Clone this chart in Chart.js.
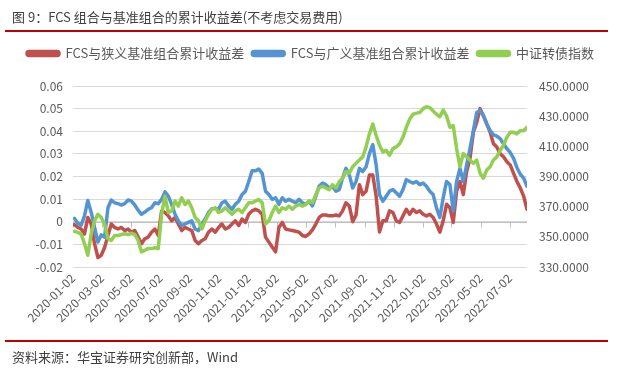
<!DOCTYPE html>
<html><head><meta charset="utf-8">
<script src="https://cdn.jsdelivr.net/npm/chart.js@4.4.1/dist/chart.umd.min.js"></script>
<style>
body{margin:0;background:#fff;}
#wrap{position:relative;width:621px;height:370px;overflow:hidden;font-family:'Noto Sans CJK SC','Noto Sans',sans-serif;}
#title{position:absolute;left:12px;top:7px;font-size:13px;color:#404040;white-space:nowrap;}
.rule{position:absolute;left:5px;width:603px;height:2px;background:#C00000;}
#src{position:absolute;left:12px;top:347px;font-size:13px;color:#404040;white-space:nowrap;}
canvas{position:absolute;left:0;top:0;}
</style></head>
<body><div id="wrap">
<canvas id="c" width="621" height="370"></canvas>
<div id="title">图 9：FCS 组合与基准组合的累计收益差(不考虑交易费用)</div>
<div class="rule" style="top:30px"></div>
<div class="rule" style="top:340px"></div>
<div id="src">资料来源：华宝证券研究创新部，Wind</div>
</div>
<script>
const seriesNames = ['FCS与狭义基准组合累计收益差','FCS与广义基准组合累计收益差','中证转债指数'];
const tickLabels = ['2020-01-02','2020-03-02','2020-05-02','2020-07-02','2020-09-02','2020-11-02','2021-01-02','2021-03-02','2021-05-02','2021-07-02','2021-09-02','2021-11-02','2022-01-02','2022-03-02','2022-05-02','2022-07-02'];
const startDate = '2020-01-02';
const firstSampleDay = 3;   // weekly samples
const sampleStep = 7;

const narrowDiff = [
-0.0013,-0.0025,-0.0032,-0.0054,0.0019,-0.0010,-0.0097,-0.0158,-0.0148,-0.0114,
-0.0061,-0.0010,-0.0025,-0.0032,-0.0025,-0.0039,-0.0032,-0.0046,-0.0039,-0.0068,
-0.0097,-0.0075,-0.0068,-0.0046,-0.0032,-0.0061,0.0048,0.0041,0.0026,0.0004,
0.0019,-0.0010,-0.0039,-0.0025,-0.0032,-0.0039,-0.0083,-0.0097,-0.0083,-0.0075,
-0.0046,-0.0032,-0.0046,-0.0025,-0.0010,-0.0032,-0.0025,-0.0010,0.0004,-0.0017,
0.0012,-0.0003,0.0033,0.0048,0.0055,0.0048,0.0033,-0.0068,-0.0090,-0.0112,
-0.0133,-0.0025,-0.0003,-0.0032,-0.0036,-0.0039,-0.0042,-0.0046,-0.0061,-0.0065,
-0.0054,-0.0036,-0.0010,0.0019,0.0030,0.0030,0.0026,0.0026,0.0030,0.0026,
0.0048,0.0084,0.0070,0.0000,0.0030,0.0164,0.0120,0.0135,0.0207,0.0207,
0.0113,-0.0045,0.0004,0.0004,0.0048,0.0041,0.0004,-0.0003,0.0026,0.0055,
0.0033,0.0055,0.0041,0.0048,0.0033,0.0026,0.0033,0.0019,-0.0010,-0.0046,
0.0004,0.0077,0.0062,-0.0003,0.0135,0.0178,0.0120,0.0222,0.0280,0.0396,
0.0439,0.0500,0.0468,0.0432,0.0396,0.0345,0.0330,0.0301,0.0287,0.0265,
0.0251,0.0214,0.0178,0.0149,0.0113,0.0055
];
const broadDiff = [
0.0015,-0.0007,-0.0015,0.0026,0.0094,0.0041,-0.0025,-0.0090,-0.0058,-0.0068,
0.0062,0.0096,0.0084,0.0080,0.0074,0.0080,0.0096,0.0091,0.0074,0.0051,
0.0033,0.0043,0.0055,0.0062,0.0084,0.0080,0.0099,0.0132,0.0113,0.0077,
0.0033,0.0004,-0.0017,-0.0010,-0.0003,0.0004,-0.0032,-0.0039,-0.0010,0.0012,
0.0041,0.0058,0.0059,0.0055,0.0084,0.0091,0.0070,0.0055,0.0077,0.0091,
0.0120,0.0135,0.0178,0.0225,0.0225,0.0233,0.0214,0.0135,0.0120,0.0099,
0.0106,0.0077,0.0106,0.0091,0.0099,0.0091,0.0084,0.0099,0.0084,0.0077,
0.0091,0.0070,0.0113,0.0157,0.0171,0.0164,0.0149,0.0157,0.0135,0.0142,
0.0193,0.0236,0.0207,0.0149,0.0178,0.0236,0.0222,0.0243,0.0301,0.0341,
0.0251,0.0120,0.0091,0.0113,0.0135,0.0142,0.0128,0.0113,0.0142,0.0186,
0.0178,0.0171,0.0178,0.0164,0.0171,0.0157,0.0135,0.0120,0.0062,0.0019,
0.0106,0.0178,0.0164,0.0048,0.0178,0.0236,0.0178,0.0251,0.0323,0.0403,
0.0483,0.0492,0.0470,0.0432,0.0403,0.0384,0.0378,0.0367,0.0345,0.0323,
0.0306,0.0280,0.0239,0.0210,0.0193,0.0157
];
const cbIndex = [
353.7,353.0,352.0,345.4,337.8,352.0,360.6,365.0,362.8,358.5,
348.7,347.6,350.9,350.9,351.5,352.0,351.5,352.4,351.5,347.6,
340.0,341.1,342.2,342.2,342.8,342.2,365.0,377.0,366.1,367.2,
373.7,370.4,375.9,371.5,373.7,369.3,362.8,360.6,355.2,360.6,
365.0,368.3,369.3,366.1,367.2,369.3,367.2,365.0,367.2,368.3,
366.1,369.3,372.6,372.6,373.7,374.8,372.6,358.5,360.6,366.1,
370.4,366.1,369.3,368.3,370.4,368.3,370.4,371.5,370.4,371.5,
373.7,372.6,378.0,382.4,383.5,382.4,381.3,384.6,382.4,386.7,
388.9,393.3,392.2,396.5,398.7,400.9,403.0,409.6,418.3,424.8,
417.2,410.7,406.3,407.4,404.1,408.5,409.6,411.7,416.1,422.6,
428.0,431.3,432.0,432.4,435.0,436.3,435.7,433.5,431.3,429.6,
434.0,430.2,422.6,423.7,408.5,396.5,405.2,403.0,400.9,398.7,
400.9,392.2,388.9,394.3,396.5,400.9,403.0,407.4,410.7,416.1,
419.3,419.3,418.3,420.4,420.4,422.6
];

function dayOffset(s){
  const [y,m,d] = s.split('-').map(Number);
  const [y0,m0,d0] = startDate.split('-').map(Number);
  return Math.round((Date.UTC(y,m-1,d) - Date.UTC(y0,m0-1,d0))/86400000);
}
const tickDays = tickLabels.map(dayOffset);
const toPoints = arr => arr.map((v,i)=>({x:firstSampleDay + i*sampleStep, y:v}));
const lastDay = firstSampleDay + (cbIndex.length-1)*sampleStep;

const FONT = "'Noto Sans CJK SC','Noto Sans',sans-serif";
const TXT = '#595959';

const legendSpacer = {
  id:'legendSpacer',
  beforeInit(chart){
    const orig = chart.legend.fit;
    chart.legend.fit = function(){ orig.call(this); this.height += 16; };
  }
};
const zeroTicks = {
  id:'zeroTicks',
  beforeDatasetsDraw(chart){
    const xs = chart.scales.x, ys = chart.scales.y, ctx = chart.ctx;
    const y0 = Math.round(ys.getPixelForValue(0)) + 0.5;
    ctx.save();
    ctx.strokeStyle = '#BFBFBF'; ctx.lineWidth = 1;
    ctx.beginPath();
    ctx.moveTo(chart.chartArea.left, y0); ctx.lineTo(chart.chartArea.right, y0);
    tickDays.forEach(d=>{
      const x = Math.round(xs.getPixelForValue(d)) + 0.5;
      ctx.moveTo(x, y0); ctx.lineTo(x, y0 + 5);
    });
    ctx.stroke();
    ctx.restore();
  }
};

new Chart(document.getElementById('c'), {
  type:'line',
  data:{ datasets:[
    {label:seriesNames[0], data:toPoints(narrowDiff), yAxisID:'y', borderColor:'#C0504D', backgroundColor:'#C0504D', order:3},
    {label:seriesNames[1], data:toPoints(broadDiff), yAxisID:'y', borderColor:'#5594D2', backgroundColor:'#5594D2', order:2},
    {label:seriesNames[2], data:toPoints(cbIndex), yAxisID:'y1', borderColor:'#92CF50', backgroundColor:'#92CF50', order:1}
  ]},
  options:{
    responsive:false, animation:false, devicePixelRatio:1,
    elements:{ line:{borderWidth:3.5, tension:0, borderJoinStyle:'round', borderCapStyle:'round'}, point:{radius:0} },
    layout:{ padding:{top:39, bottom:31, left:0, right:0} },
    plugins:{
      legend:{ position:'top', labels:{ boxWidth:32, boxHeight:4, padding:8, color:TXT, font:{family:FONT, size:13}, useBorderRadius:true, borderRadius:2,
        sort:(a,b)=>a.datasetIndex-b.datasetIndex } },
      tooltip:{enabled:false}
    },
    scales:{
      x:{ type:'linear', min:0, max:lastDay,
        grid:{display:false, drawTicks:false}, border:{display:false},
        afterBuildTicks: ax => { ax.ticks = tickDays.map(v=>({value:v})); },
        afterFit: sc => { sc.height = 72; },
        ticks:{ autoSkip:false, minRotation:45, maxRotation:45, padding:4, color:TXT, font:{family:FONT, size:12},
          callback:(v,i)=>tickLabels[i] }
      },
      y:{ position:'left', min:-0.02, max:0.06,
        grid:{color:'#D9D9D9', lineWidth:1, drawTicks:false}, border:{display:false},
        afterFit: sc => { sc.width = 73; },
        ticks:{ stepSize:0.01, padding:10, color:TXT, font:{family:FONT, size:12},
          callback:v=> Math.abs(v)<1e-9 ? '0' : v.toFixed(2) }
      },
      y1:{ position:'right', min:330, max:450,
        grid:{display:false, drawTicks:false}, border:{display:false},
        afterFit: sc => { sc.width = 94; },
        ticks:{ stepSize:20, padding:12, color:TXT, font:{family:FONT, size:12},
          callback:v=> v.toFixed(4) }
      }
    }
  },
  plugins:[legendSpacer, zeroTicks]
});
</script>
</body></html>
